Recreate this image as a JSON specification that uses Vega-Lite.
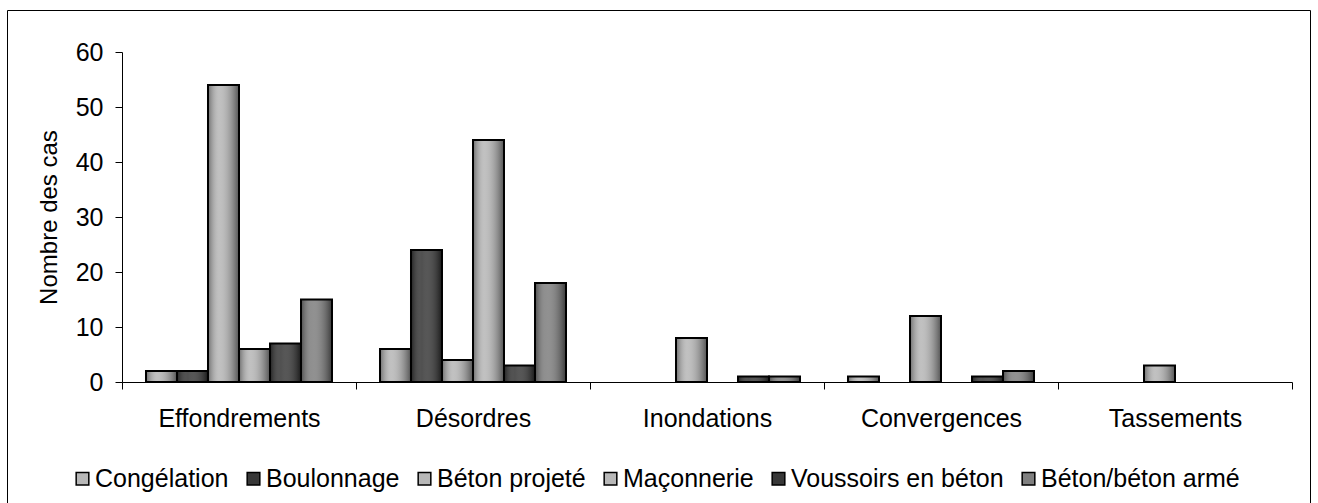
{
  "$schema": "https://vega.github.io/schema/vega-lite/v6.json",
  "width": 1303,
  "height": 493,
  "autosize": {"type": "none"},
  "padding": {"left": 7, "top": 10, "right": 8, "bottom": 0},
  "background": "white",
  "config": {
    "font": "Liberation Sans",
    "view": {"stroke": "black", "strokeWidth": 1}
  },
  "data": {
    "values": [
      {"categorie": "Effondrements", "materiau": "Congélation", "cas": 2},
      {"categorie": "Effondrements", "materiau": "Boulonnage", "cas": 2},
      {"categorie": "Effondrements", "materiau": "Béton projeté", "cas": 54},
      {"categorie": "Effondrements", "materiau": "Maçonnerie", "cas": 6},
      {"categorie": "Effondrements", "materiau": "Voussoirs en béton", "cas": 7},
      {"categorie": "Effondrements", "materiau": "Béton/béton armé", "cas": 15},
      {"categorie": "Désordres", "materiau": "Congélation", "cas": 6},
      {"categorie": "Désordres", "materiau": "Boulonnage", "cas": 24},
      {"categorie": "Désordres", "materiau": "Béton projeté", "cas": 4},
      {"categorie": "Désordres", "materiau": "Maçonnerie", "cas": 44},
      {"categorie": "Désordres", "materiau": "Voussoirs en béton", "cas": 3},
      {"categorie": "Désordres", "materiau": "Béton/béton armé", "cas": 18},
      {"categorie": "Inondations", "materiau": "Béton projeté", "cas": 8},
      {"categorie": "Inondations", "materiau": "Voussoirs en béton", "cas": 1},
      {"categorie": "Inondations", "materiau": "Béton/béton armé", "cas": 1},
      {"categorie": "Convergences", "materiau": "Congélation", "cas": 1},
      {"categorie": "Convergences", "materiau": "Béton projeté", "cas": 12},
      {"categorie": "Convergences", "materiau": "Voussoirs en béton", "cas": 1},
      {"categorie": "Convergences", "materiau": "Béton/béton armé", "cas": 2},
      {"categorie": "Tassements", "materiau": "Béton projeté", "cas": 3}
    ]
  },
  "encoding": {
    "x": {
      "field": "categorie",
      "type": "nominal",
      "sort": ["Effondrements", "Désordres", "Inondations", "Convergences", "Tassements"],
      "scale": {
        "domain": ["Effondrements", "Désordres", "Inondations", "Convergences", "Tassements"],
        "range": [115, 1285],
        "paddingInner": 0,
        "paddingOuter": 0
      },
      "axis": {
        "title": null,
        "offset": -121,
        "tickBand": "extent",
        "tickSize": 7,
        "tickColor": "black",
        "domainColor": "black",
        "labelFontSize": 25,
        "labelColor": "black",
        "labelPadding": 17,
        "labelAngle": 0,
        "grid": false
      }
    },
    "xOffset": {
      "field": "materiau",
      "type": "nominal",
      "scale": {
        "domain": ["Congélation", "Boulonnage", "Béton projeté", "Maçonnerie", "Voussoirs en béton", "Béton/béton armé"],
        "paddingInner": 0,
        "paddingOuter": 0.774
      }
    },
    "y": {
      "field": "cas",
      "type": "quantitative",
      "scale": {"domain": [0, 60], "range": [372, 42], "nice": false},
      "axis": {
        "title": "Nombre des cas",
        "titleFontSize": 24,
        "titleFontWeight": "normal",
        "titleColor": "black",
        "titlePadding": 14,
        "values": [0, 10, 20, 30, 40, 50, 60],
        "offset": -115,
        "tickSize": 7,
        "tickColor": "black",
        "domainColor": "black",
        "labelFontSize": 25,
        "labelColor": "black",
        "labelPadding": 12,
        "grid": false
      }
    }
  },
  "layer": [
    {
      "mark": {"type": "bar"},
      "encoding": {
        "color": {
          "field": "materiau",
          "type": "nominal",
          "scale": {
            "domain": ["Congélation", "Boulonnage", "Béton projeté", "Maçonnerie", "Voussoirs en béton", "Béton/béton armé"],
            "range": ["#b8b8b8", "#383838", "#b8b8b8", "#b8b8b8", "#383838", "#808080"]
          },
          "legend": {
            "title": null,
            "orient": "none",
            "direction": "horizontal",
            "legendX": 63,
            "legendY": 456,
            "symbolType": "square",
            "symbolSize": 160,
            "symbolStrokeColor": "black",
            "symbolStrokeWidth": 1.5,
            "symbolOpacity": 1,
            "labelFontSize": 25,
            "labelColor": "black",
            "labelOffset": 0,
            "columnPadding": 12,
            "labelLimit": 400
          }
        }
      }
    },
    {
      "mark": {
        "type": "bar",
        "stroke": "black",
        "strokeWidth": 2,
        "fill": {
          "gradient": "linear",
          "x1": 0, "y1": 0, "x2": 1, "y2": 0,
          "stops": [
            {"offset": 0, "color": "rgba(0,0,0,0.4)"},
            {"offset": 0.35, "color": "rgba(255,255,255,0.12)"},
            {"offset": 1, "color": "rgba(0,0,0,0.55)"}
          ]
        }
      }
    }
  ]
}
